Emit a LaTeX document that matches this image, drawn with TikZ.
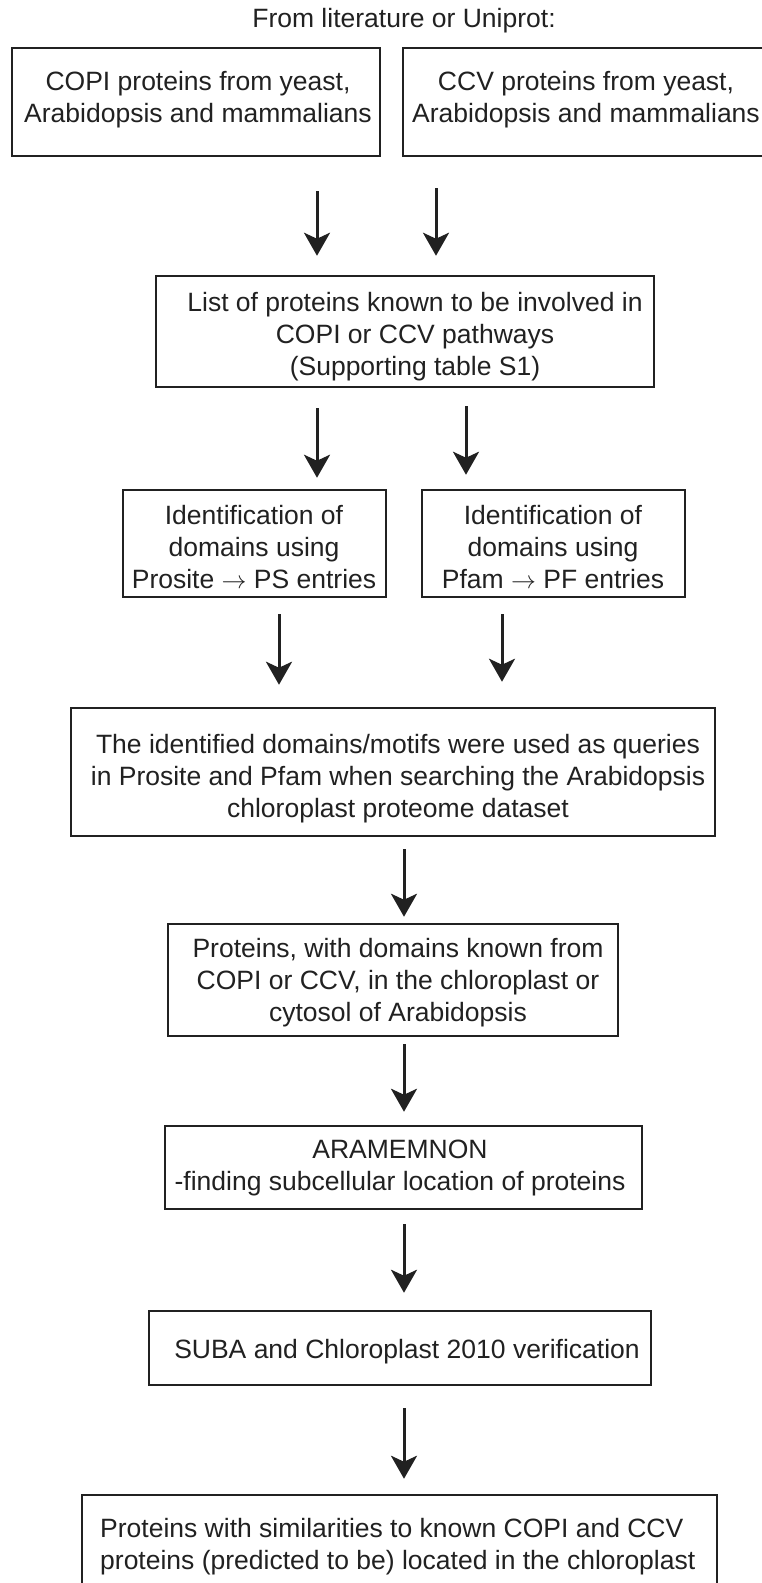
\documentclass[tikz,border=0pt]{standalone}
\usepackage{fontspec}
\setmainfont{Liberation Sans}
\usetikzlibrary{arrows.meta}
\definecolor{ink}{gray}{0.13}
\begin{document}
\begin{tikzpicture}[x=1pt,y=1pt,
  box/.style={draw=ink, line width=2.5pt, rectangle, inner sep=0pt},
  txt/.style={align=center, inner sep=0pt, text=ink, font=\fontsize{26.5}{32}\selectfont},
  arr/.style={draw=ink, line width=3pt, -{Stealth[length=23pt,width=26pt,inset=6pt]}}]
\useasboundingbox (0,0) rectangle (762,-1583);
\fill[white] (0,0) rectangle (762,-1583);
\clip (0,0) rectangle (762,-1583);

\node[txt] (title) at (404,-21) {From literature or Uniprot:};

\node[box, minimum width=368pt, minimum height=108pt] (b1) at (196,-102) {};
\node[box, minimum width=372pt, minimum height=108pt] (b2) at (589,-102) {};
\node[box, minimum width=498pt, minimum height=111pt] (b3) at (405,-331.5) {};
\node[box, minimum width=263pt, minimum height=107pt] (b4) at (254.5,-543.5) {};
\node[box, minimum width=263pt, minimum height=107pt] (b5) at (553.5,-543.5) {};
\node[box, minimum width=644pt, minimum height=128pt] (b6) at (393,-772) {};
\node[box, minimum width=450pt, minimum height=112pt] (b7) at (393,-980) {};
\node[box, minimum width=477pt, minimum height=83pt] (b8) at (403.5,-1167.5) {};
\node[box, minimum width=502pt, minimum height=74pt] (b9) at (400,-1348) {};
\node[box, minimum width=635pt, minimum height=105pt] (b10) at (399.5,-1547.5) {};

\node[txt] (t1) at (198,-100) {COPI proteins from yeast,\\Arabidopsis and mammalians};
\node[txt] (t2) at (586,-100) {CCV proteins from yeast,\\Arabidopsis and mammalians};
\node[txt] (t3) at (415,-337) {List of proteins known to be involved in\\COPI or CCV pathways\\(Supporting table S1)};
\node[txt] (t4) at (254,-547) {Identification of\\domains using\\Prosite $\rightarrow$ PS entries};
\node[txt] (t5) at (553,-547) {Identification of\\domains using\\Pfam $\rightarrow$ PF entries};
\node[txt] (t6) at (398,-778.5) {The identified domains/motifs were used as queries\\in Prosite and Pfam when searching the Arabidopsis\\chloroplast proteome dataset};
\node[txt] (t7) at (398,-982.5) {Proteins, with domains known from\\COPI or CCV, in the chloroplast or\\cytosol of Arabidopsis};
\node[txt] (t8) at (400,-1168) {ARAMEMNON\\-finding subcellular location of proteins};
\node[txt] (t9) at (407,-1352) {SUBA and Chloroplast 2010 verification};
\node[txt, align=left, anchor=west] (t10) at (100,-1547) {Proteins with similarities to known COPI and CCV\\proteins (predicted to be) located in the chloroplast};

\draw[arr, shorten <=34pt, shorten >=19pt] ([xshift=121pt]b1.south) -- ([xshift=-88pt]b3.north);
\draw[arr, shorten <=31pt, shorten >=19pt] ([xshift=-153pt]b2.south) -- ([xshift=31pt]b3.north);
\draw[arr, shorten <=20pt, shorten >=11pt] ([xshift=-88pt]b3.south) -- ([xshift=62.5pt]b4.north);
\draw[arr, shorten <=18pt, shorten >=14pt] ([xshift=61pt]b3.south) -- ([xshift=-87.5pt]b5.north);
\draw[arr, shorten <=16pt, shorten >=22pt] ([xshift=24.5pt]b4.south) -- ([xshift=-114pt]b6.north);
\draw[arr, shorten <=16pt, shorten >=25pt] ([xshift=-51.5pt]b5.south) -- ([xshift=109pt]b6.north);
\draw[arr, shorten <=12pt, shorten >=6pt] ([xshift=11pt]b6.south) -- ([xshift=11pt]b7.north);
\draw[arr, shorten <=7pt, shorten >=13pt] ([xshift=11pt]b7.south) -- ([xshift=0.5pt]b8.north);
\draw[arr, shorten <=14pt, shorten >=17pt] ([xshift=0.5pt]b8.south) -- ([xshift=4pt]b9.north);
\draw[arr, shorten <=22pt, shorten >=15pt] ([xshift=4pt]b9.south) -- ([xshift=4.5pt]b10.north);
\end{tikzpicture}
\end{document}
